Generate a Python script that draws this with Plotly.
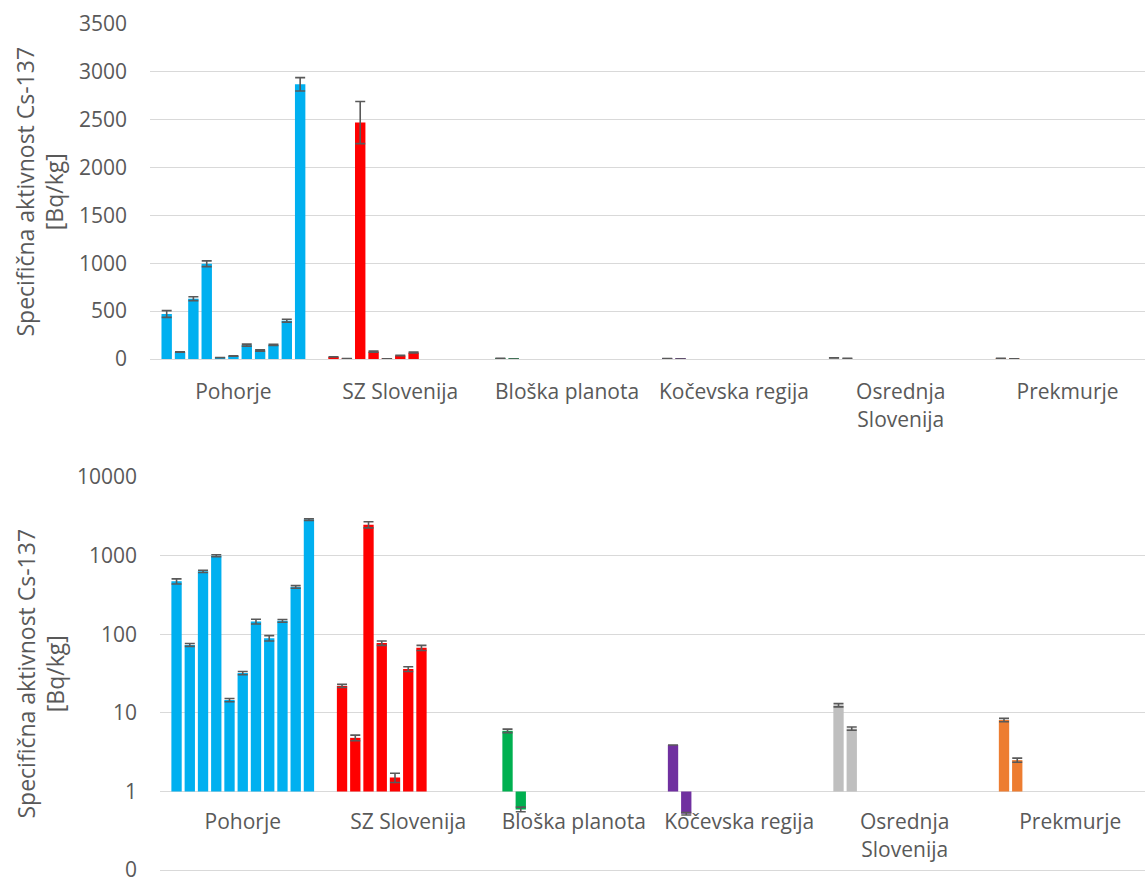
import plotly.graph_objects as go

# Regions (x categories) and bar colours
categories = ["Pohorje", "SZ Slovenija", "Bloška planota", "Kočevska regija",
              "Osrednja<br>Slovenija", "Prekmurje"]
region_colors = ["#00B0F0", "#FF0000", "#00B050", "#7030A0", "#BFBFBF", "#ED7D31"]

# Specific activity of Cs-137 [Bq/kg] per sampling site, with uncertainty
pohorje = [470, 73, 630, 995, 14.5, 32, 145, 89, 148, 400, 2870]
pohorje_err = [35, 3, 20, 30, 0.7, 1.5, 10, 7, 6, 15, 70]
sz_slovenija = [22, 4.8, 2470, 77, 1.5, 36, 67]
sz_slovenija_err = [1, 0.4, 220, 5, 0.2, 2.5, 5]
bloska = [5.9, 0.59]
bloska_err = [0.3, 0.04]
kocevska = [3.9, 0.52]
kocevska_err = [0, 0.02]
osrednja = [12.5, 6.3]
osrednja_err = [0.6, 0.3]
prekmurje = [8.1, 2.5]
prekmurje_err = [0.4, 0.15]

lin_ticks = [0, 500, 1000, 1500, 2000, 2500, 3000, 3500]
log_tickvals = [0.1, 1, 10, 100, 1000, 10000]
log_ticktext = ["0", "1", "10", "100", "1000", "10000"]

values = [pohorje, sz_slovenija, bloska, kocevska, osrednja, prekmurje]
errors = [pohorje_err, sz_slovenija_err, bloska_err, kocevska_err, osrednja_err, prekmurje_err]
n_slots = max(len(v) for v in values)

W, H = 1145, 886
FONT = "Open Sans"
TXT = "#595959"
GRID = "#D9D9D9"

# log panel range (decades); a small pad below 0.1 keeps that tick inside
log_lo, log_hi = -1.02, 4
bot_top_px, bot_floor_px = 477, 870   # pixel rows of 10000 and 0.1
decade_px = (bot_floor_px - bot_top_px) / 5

# vertical pixel extents of the two plot areas
top_px = (24, 359)
bot_px = (bot_top_px, bot_floor_px + (-1 - log_lo) * decade_px)
top_dom = [(H - top_px[1]) / H, (H - top_px[0]) / H]
bot_dom = [(H - bot_px[1]) / H, (H - bot_px[0]) / H]

fig = go.Figure()

for k in range(n_slots):
    vals = [v[k] if k < len(v) else None for v in values]
    errs = [e[k] if k < len(e) else None for e in errors]
    err_style = dict(type="data", array=errs, visible=True,
                     color="#595959", thickness=1.6, width=5)
    # linear panel
    fig.add_trace(go.Bar(
        x=categories, y=vals, marker=dict(color=region_colors, line_width=0),
        error_y=err_style, xaxis="x", yaxis="y", showlegend=False))
    # logarithmic panel, bars grow from 1 (the axis crossing)
    log_vals = [None if v is None else v - 1 for v in vals]
    fig.add_trace(go.Bar(
        x=categories, y=log_vals, base=1,
        marker=dict(color=region_colors, line_width=0),
        error_y=err_style, xaxis="x2", yaxis="y2", showlegend=False))

# position of the horizontal axis of the log panel (crossing at 1)
cross_pos = bot_dom[0] + (0 - log_lo) / (log_hi - log_lo) * (bot_dom[1] - bot_dom[0])

tickfont = dict(family=FONT, size=21, color=TXT)

fig.update_layout(
    width=W, height=H,
    margin=dict(l=0, r=0, t=0, b=0),
    paper_bgcolor="white", plot_bgcolor="white",
    barmode="group", bargap=0.12, bargroupgap=0.22,
    font=dict(family=FONT, color=TXT),
    xaxis=dict(domain=[150 / W, 1], range=[-0.5, 5.464], anchor="y",
               automargin=False, ticklabeloverflow="allow",
               showgrid=False, showline=True, linecolor=GRID, linewidth=1.3,
               ticks="", tickfont=tickfont, ticklabelstandoff=14),
    yaxis=dict(domain=top_dom, range=[0, 3500], tickvals=lin_ticks, anchor="x",
               automargin=False, ticklabeloverflow="allow",
               showgrid=True, gridcolor=GRID, gridwidth=1.3, zeroline=False,
               showline=False, ticks="", tickfont=tickfont, ticklabelstandoff=22),
    xaxis2=dict(domain=[160 / W, 1], range=[-0.5, 5.452], anchor="free",
                position=cross_pos, automargin=False, ticklabeloverflow="allow",
                showgrid=False, showline=False,
                ticks="", tickfont=tickfont, ticklabelstandoff=16),
    yaxis2=dict(domain=bot_dom, type="log", range=[log_lo, log_hi], anchor="x2",
                automargin=False, ticklabeloverflow="allow",
                tickvals=log_tickvals, ticktext=log_ticktext,
                showgrid=True, gridcolor=GRID, gridwidth=1.3, zeroline=False,
                showline=False, ticks="", tickfont=tickfont, ticklabelstandoff=22),
)

title = "Specifična aktivnost Cs-137<br>[Bq/kg]"
for lo_px, hi_px in (top_px, (bot_top_px, bot_floor_px)):
    fig.add_annotation(
        text=title, xref="paper", yref="paper", x=40 / W,
        y=(H - (lo_px + hi_px) / 2) / H,
        xanchor="center", yanchor="middle", textangle=-90, showarrow=False,
        font=dict(family=FONT, size=23, color=TXT))

fig.write_html("out.html")
